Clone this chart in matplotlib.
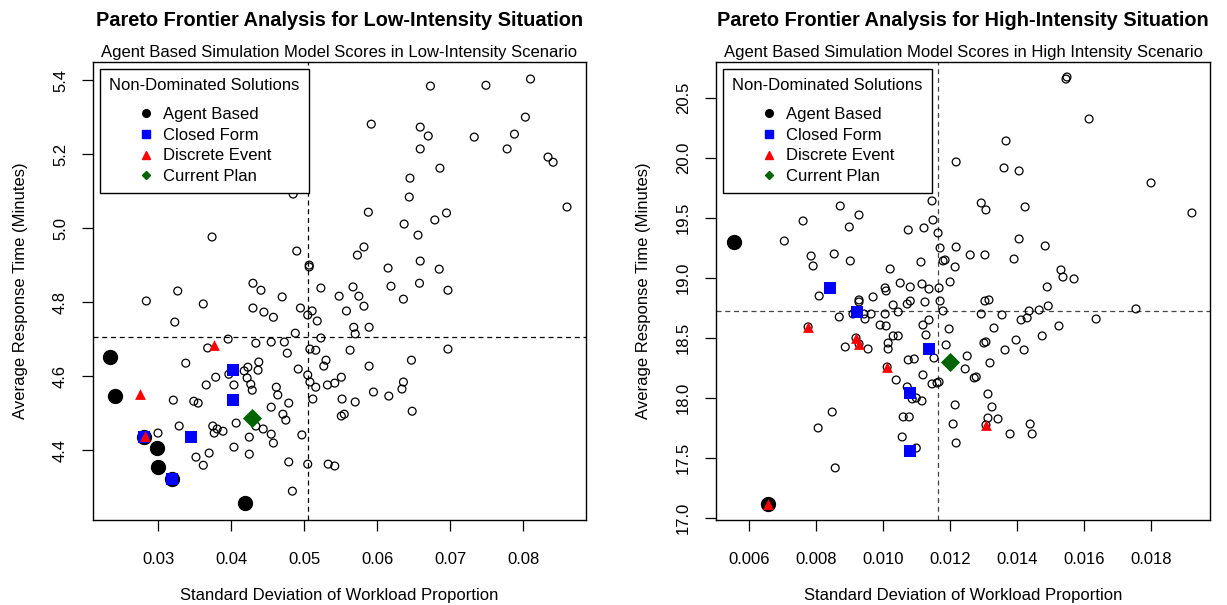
import matplotlib
matplotlib.use("Agg")
import matplotlib.pyplot as plt
from matplotlib.lines import Line2D

plt.rcParams['font.family'] = ['Liberation Sans', 'DejaVu Sans']

# ---------------- Low-intensity scenario ----------------
low_x = [0.0673, 0.0749, 0.0810, 0.0592, 0.0659, 0.0670, 0.0733, 0.0788, 0.0803, 0.0778,
         0.0659, 0.0834, 0.0841, 0.0686, 0.0645, 0.0644, 0.0588, 0.0695, 0.0679, 0.0860,
         0.0637, 0.0656, 0.0582, 0.0573, 0.0615, 0.0659, 0.0685, 0.0567, 0.0619, 0.0658,
         0.0697, 0.0374, 0.0485, 0.0490, 0.0507, 0.0507, 0.0430, 0.0441, 0.0523, 0.0327,
         0.0548, 0.0575, 0.0636, 0.0582, 0.0558, 0.0568, 0.0570, 0.0589, 0.0563, 0.0697,
         0.0647, 0.0589, 0.0551, 0.0636, 0.0634, 0.0595, 0.0616, 0.0552, 0.0570, 0.0648,
         0.0555, 0.0551, 0.0284, 0.0362, 0.0470, 0.0430, 0.0445, 0.0458, 0.0495, 0.0505,
         0.0511, 0.0518, 0.0323, 0.0488, 0.0396, 0.0523, 0.0434, 0.0455, 0.0473, 0.0477,
         0.0368, 0.0508, 0.0516, 0.0338, 0.0438, 0.0530, 0.0527, 0.0492, 0.0418, 0.0423,
         0.0437, 0.0379, 0.0397, 0.0422, 0.0505, 0.0366, 0.0404, 0.0427, 0.0429, 0.0462,
         0.0508, 0.0516, 0.0532, 0.0542, 0.0464, 0.0321, 0.0349, 0.0355, 0.0512, 0.0479,
         0.0455, 0.0471, 0.0475, 0.0329, 0.0375, 0.0381, 0.0377, 0.0389, 0.0407, 0.0434,
         0.0444, 0.0455, 0.0458, 0.0425, 0.0497, 0.0300, 0.0404, 0.0425, 0.0370, 0.0352,
         0.0362, 0.0479, 0.0505, 0.0533, 0.0542, 0.0484]
low_y = [5.384, 5.386, 5.403, 5.281, 5.273, 5.249, 5.246, 5.254, 5.300, 5.214,
         5.214, 5.192, 5.178, 5.162, 5.135, 5.084, 5.043, 5.041, 5.022, 5.057,
         5.011, 4.981, 4.949, 4.927, 4.892, 4.911, 4.889, 4.841, 4.843, 4.851,
         4.832, 4.976, 5.092, 4.938, 4.900, 4.895, 4.851, 4.832, 4.838, 4.830,
         4.816, 4.816, 4.808, 4.789, 4.776, 4.732, 4.714, 4.732, 4.670, 4.673,
         4.643, 4.627, 4.597, 4.584, 4.565, 4.557, 4.546, 4.538, 4.530, 4.505,
         4.497, 4.492, 4.803, 4.795, 4.814, 4.784, 4.773, 4.759, 4.784, 4.765,
         4.776, 4.749, 4.746, 4.716, 4.700, 4.703, 4.689, 4.692, 4.692, 4.662,
         4.676, 4.673, 4.670, 4.635, 4.638, 4.643, 4.627, 4.619, 4.614, 4.624,
         4.616, 4.597, 4.605, 4.595, 4.603, 4.576, 4.576, 4.578, 4.562, 4.570,
         4.584, 4.570, 4.576, 4.581, 4.549, 4.535, 4.532, 4.527, 4.538, 4.527,
         4.516, 4.497, 4.481, 4.465, 4.465, 4.457, 4.446, 4.451, 4.473, 4.465,
         4.457, 4.443, 4.419, 4.435, 4.441, 4.446, 4.408, 4.389, 4.392, 4.381,
         4.359, 4.368, 4.362, 4.362, 4.357, 4.289]

low_agent_x = [0.0234, 0.0241, 0.0299, 0.0300, 0.0419, 0.0281, 0.0319]
low_agent_y = [4.651, 4.546, 4.405, 4.354, 4.257, 4.435, 4.322]
low_closed_x = [0.0403, 0.0403, 0.0345, 0.0281, 0.0319]
low_closed_y = [4.616, 4.535, 4.435, 4.435, 4.322]
low_discrete_x = [0.0377, 0.0275, 0.0282]
low_discrete_y = [4.684, 4.551, 4.438]
low_current_x = [0.0429]
low_current_y = [4.486]
low_mean_x = 0.0505
low_mean_y = 4.705
low_xticks = [0.03, 0.04, 0.05, 0.06, 0.07, 0.08]
low_xticklabels = ["0.03", "0.04", "0.05", "0.06", "0.07", "0.08"]
low_yticks = [4.4, 4.6, 4.8, 5.0, 5.2, 5.4]
low_yticklabels = ["4.4", "4.6", "4.8", "5.0", "5.2", "5.4"]

# ---------------- High-intensity scenario ----------------
high_x = [0.01218, 0.01146, 0.00872, 0.00928, 0.01149, 0.00761, 0.00899, 0.01075, 0.01122, 0.01164,
          0.00705, 0.01170, 0.01218, 0.01260, 0.00785, 0.00791, 0.00854, 0.00902, 0.01113, 0.01179,
          0.01185, 0.01215, 0.01021, 0.01051, 0.01116, 0.01200, 0.01081, 0.01167, 0.01137, 0.01546,
          0.01549, 0.01615, 0.01367, 0.01361, 0.01406, 0.01800, 0.01922, 0.01293, 0.01307, 0.01424,
          0.01406, 0.01484, 0.01304, 0.01391, 0.01531, 0.01537, 0.01570, 0.01490, 0.01304, 0.01316,
          0.01293, 0.01355, 0.01436, 0.01466, 0.01493, 0.01755, 0.01636, 0.01412, 0.01430, 0.01331,
          0.01525, 0.01475, 0.01397, 0.01301, 0.01307, 0.01364, 0.01421, 0.01251, 0.01319, 0.01245,
          0.01272, 0.01278, 0.01313, 0.01325, 0.01313, 0.01343, 0.01307, 0.01439, 0.01379, 0.01445,
          0.00809, 0.00928, 0.00928, 0.00970, 0.01006, 0.01009, 0.01030, 0.01072, 0.01081, 0.01125,
          0.01170, 0.01179, 0.00910, 0.00943, 0.00946, 0.00964, 0.00869, 0.01006, 0.01045, 0.01119,
          0.01137, 0.00991, 0.01009, 0.01197, 0.01030, 0.01045, 0.01128, 0.01015, 0.01015, 0.00887,
          0.00955, 0.01188, 0.01152, 0.01075, 0.01093, 0.01119, 0.01039, 0.01146, 0.01161, 0.01167,
          0.01072, 0.01087, 0.01099, 0.01116, 0.01215, 0.00848, 0.00806, 0.01060, 0.01078, 0.01209,
          0.01057, 0.01218, 0.01099, 0.00857, 0.00776, 0.00919, 0.00928, 0.01012]
high_y = [19.967, 19.642, 19.600, 19.525, 19.483, 19.475, 19.425, 19.400, 19.417, 19.375,
          19.308, 19.250, 19.258, 19.192, 19.183, 19.100, 19.200, 19.142, 19.133, 19.142,
          19.150, 19.092, 19.075, 18.958, 18.950, 18.967, 18.925, 18.917, 18.908, 20.658,
          20.675, 20.325, 20.142, 19.917, 19.892, 19.792, 19.542, 19.625, 19.567, 19.592,
          19.325, 19.267, 19.192, 19.158, 19.067, 19.008, 18.992, 18.925, 18.808, 18.817,
          18.700, 18.692, 18.725, 18.733, 18.767, 18.742, 18.658, 18.650, 18.667, 18.583,
          18.600, 18.517, 18.483, 18.458, 18.467, 18.400, 18.400, 18.350, 18.292, 18.242,
          18.167, 18.175, 18.033, 17.925, 17.833, 17.825, 17.775, 17.783, 17.700, 17.700,
          18.850, 18.817, 18.800, 18.842, 18.917, 18.892, 18.775, 18.783, 18.808, 18.800,
          18.808, 18.725, 18.700, 18.700, 18.658, 18.700, 18.675, 18.700, 18.717, 18.608,
          18.650, 18.608, 18.600, 18.575, 18.517, 18.517, 18.525, 18.458, 18.408, 18.425,
          18.408, 18.442, 18.333, 18.317, 18.325, 18.192, 18.150, 18.117, 18.125, 18.133,
          18.092, 17.992, 18.000, 17.975, 17.942, 17.883, 17.750, 17.842, 17.842, 17.783,
          17.675, 17.625, 17.583, 17.417, 18.592, 18.500, 18.450, 18.258]

high_agent_x = [0.00555, 0.00657]
high_agent_y = [19.300, 17.117]
high_closed_x = [0.00842, 0.00922, 0.01137, 0.01081, 0.01081]
high_closed_y = [18.917, 18.717, 18.408, 18.042, 17.558]
high_discrete_x = [0.00776, 0.00919, 0.00928, 0.01012, 0.01307, 0.00657]
high_discrete_y = [18.592, 18.500, 18.450, 18.258, 17.775, 17.117]
high_current_x = [0.01200]
high_current_y = [18.300]
high_mean_x = 0.01164
high_mean_y = 18.725
high_xticks = [0.006, 0.008, 0.010, 0.012, 0.014, 0.016, 0.018]
high_xticklabels = ["0.006", "0.008", "0.010", "0.012", "0.014", "0.016", "0.018"]
high_yticks = [17.0, 17.5, 18.0, 18.5, 19.0, 19.5, 20.0, 20.5]
high_yticklabels = ["17.0", "17.5", "18.0", "18.5", "19.0", "19.5", "20.0", "20.5"]

legend_labels = ["Agent Based", "Closed Form", "Discrete Event", "Current Plan"]

W, H = 1227, 605
fig = plt.figure(figsize=(W / 100, H / 100), dpi=100)


def panel(rect, xs, ys, agent, closed, discrete, current, mean_x, mean_y,
          xlim, ylim, xticks, xticklabels, yticks, yticklabels,
          title, subtitle, dash_color):
    ax = fig.add_axes(rect)
    ax.scatter(xs, ys, s=32, facecolors='none', edgecolors='black', linewidths=0.9, zorder=2)
    ax.axvline(mean_x, color=dash_color, lw=0.9, dashes=(4, 3), zorder=1)
    ax.axhline(mean_y, color=dash_color, lw=0.9, dashes=(4, 3), zorder=1)
    ax.scatter(agent[0], agent[1], s=100, marker='o', color='black', zorder=3)
    ax.scatter(closed[0], closed[1], s=72, marker='s', color='blue', linewidths=0, zorder=4)
    ax.scatter(discrete[0], discrete[1], s=60, marker='^', color='red', linewidths=0, zorder=5)
    ax.scatter(current[0], current[1], s=95, marker='D', color='#006400', linewidths=0, zorder=6)

    ax.set_xlim(*xlim)
    ax.set_ylim(*ylim)
    ax.set_xticks(xticks)
    ax.set_xticklabels(xticklabels)
    ax.set_yticks(yticks)
    ax.set_yticklabels(yticklabels, rotation=90, va='center')
    ax.tick_params(direction='out', length=8, width=0.9, labelsize=12)
    ax.tick_params(axis='x', pad=15)
    ax.tick_params(axis='y', pad=10)
    for sp in ax.spines.values():
        sp.set_linewidth(1.0)

    ax.set_xlabel("Standard Deviation of Workload Proportion", fontsize=12, labelpad=15)
    ax.set_ylabel("Average Response Time (Minutes)", fontsize=12, labelpad=18)
    ax.text(0.5, 1.005, subtitle, transform=ax.transAxes, ha='center', va='bottom', fontsize=12)
    ax.text(0.5, 1.0 + 42 / 458, title, transform=ax.transAxes, ha='center', va='center',
            fontsize=14.4, fontweight='bold')

    handles = [
        Line2D([], [], ls='none', marker='o', color='black', markersize=5.5),
        Line2D([], [], ls='none', marker='s', color='blue', markersize=5.5),
        Line2D([], [], ls='none', marker='^', color='red', markersize=6),
        Line2D([], [], ls='none', marker='D', color='#006400', markersize=4),
    ]
    leg = ax.legend(handles, legend_labels, title="Non-Dominated Solutions",
                    loc='upper left', bbox_to_anchor=(7 / 493, 1 - 7 / 458),
                    borderaxespad=0, fontsize=12, title_fontsize=12,
                    frameon=True, fancybox=False, edgecolor='black', framealpha=1,
                    handlelength=1.0, handletextpad=0.5, labelspacing=0.34,
                    borderpad=0.55, alignment='center')
    # a little extra room between the legend title and its entries
    leg._legend_box.sep = 10
    leg.get_frame().set_linewidth(1.0)
    leg.set_zorder(10)
    return ax


panel([93 / W, 1 - 520 / H, 493 / W, 458 / H], low_x, low_y,
      (low_agent_x, low_agent_y), (low_closed_x, low_closed_y),
      (low_discrete_x, low_discrete_y), (low_current_x, low_current_y),
      low_mean_x, low_mean_y, (0.0211, 0.0886), (4.211, 5.449),
      low_xticks, low_xticklabels, low_yticks, low_yticklabels,
      "Pareto Frontier Analysis for Low-Intensity Situation",
      "Agent Based Simulation Model Scores in Low-Intensity Scenario", 'black')

panel([716 / W, 1 - 520 / H, 494 / W, 458 / H], high_x, high_y,
      (high_agent_x, high_agent_y), (high_closed_x, high_closed_y),
      (high_discrete_x, high_discrete_y), (high_current_x, high_current_y),
      high_mean_x, high_mean_y, (0.00501, 0.01976), (16.983, 20.80),
      high_xticks, high_xticklabels, high_yticks, high_yticklabels,
      "Pareto Frontier Analysis for High-Intensity Situation",
      "Agent Based Simulation Model Scores in High Intensity Scenario", '#444444')

fig.savefig("out.png", dpi=100)
